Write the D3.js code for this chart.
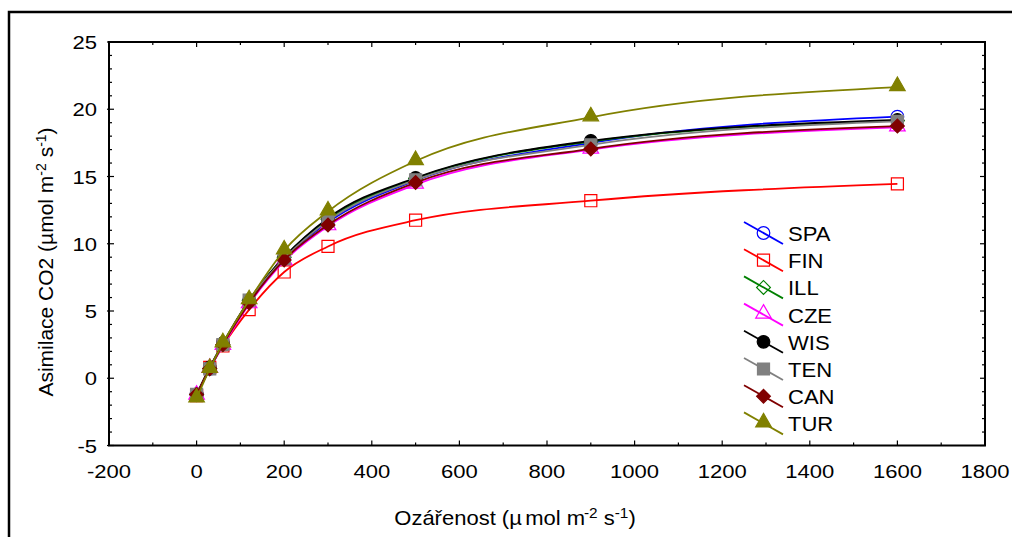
<!DOCTYPE html>
<html>
<head>
<meta charset="utf-8">
<script src="https://cdn.jsdelivr.net/npm/d3@7/dist/d3.min.js"></script>
<style>
  html, body { margin: 0; padding: 0; background: #fff; }
  svg { display: block; font-family: "Liberation Sans", Arial, sans-serif; }
</style>
</head>
<body>
<svg id="chart" width="1012" height="537"></svg>
<script>
// Light-response curves of CO2 assimilation for eight provenances
const irradiance = [0, 30, 60, 120, 200, 300, 500, 900, 1600];

const SPA = [-1.2, 0.7, 2.5, 5.7, 8.9, 11.6, 14.7, 17.5, 19.45];
const FIN = [-1.3, 0.8, 2.4, 5.1, 7.9, 9.8, 11.75, 13.2, 14.45];
const ILL = [-1.2, 0.7, 2.5, 5.8, 9.0, 11.8, 14.85, 17.6, 19.15];
const CZE = [-1.3, 0.7, 2.4, 5.5, 8.7, 11.3, 14.4, 17.0, 18.65];
const WIS = [-1.2, 0.8, 2.6, 5.8, 9.0, 11.9, 14.9, 17.65, 19.2];
const TEN = [-1.2, 0.7, 2.5, 5.8, 8.9, 11.7, 14.75, 17.35, 19.1];
const CAN = [-1.2, 0.7, 2.5, 5.6, 8.8, 11.4, 14.55, 17.05, 18.75];
const TUR = [-1.5, 0.7, 2.6, 5.8, 9.5, 12.4, 16.15, 19.4, 21.65];

const seriesNames = ["SPA", "FIN", "ILL", "CZE", "WIS", "TEN", "CAN", "TUR"];
const seriesValues = [SPA, FIN, ILL, CZE, WIS, TEN, CAN, TUR];

const xTicks = [-200, 0, 200, 400, 600, 800, 1000, 1200, 1400, 1600, 1800];
const yTicks = [-5, 0, 5, 10, 15, 20, 25];

// Style per series: colour, marker shape, filled or hollow
const styles = {
  SPA: { color: "#0000ff", shape: "circle",   fill: false },
  FIN: { color: "#ff0000", shape: "square",   fill: false },
  ILL: { color: "#008000", shape: "diamond",  fill: false },
  CZE: { color: "#ff00ff", shape: "triangle", fill: false },
  WIS: { color: "#000000", shape: "circle",   fill: true },
  TEN: { color: "#808080", shape: "square",   fill: true },
  CAN: { color: "#800000", shape: "diamond",  fill: true },
  TUR: { color: "#808000", shape: "triangle", fill: true }
};

const svg = d3.select("#chart");

// Outer frame of the figure
svg.append("rect")
  .attr("x", 9).attr("y", 12)
  .attr("width", 1030).attr("height", 560)
  .attr("fill", "none").attr("stroke", "#000").attr("stroke-width", 2.5);

const plotLeft = 109, plotRight = 985, plotTop = 42, plotBottom = 445.5;

const x = d3.scaleLinear().domain([-200, 1800]).range([plotLeft, plotRight]);
const y = d3.scaleLinear().domain([-5, 25]).range([plotBottom, plotTop]);

// Plot frame
svg.append("rect")
  .attr("x", plotLeft).attr("y", plotTop)
  .attr("width", plotRight - plotLeft).attr("height", plotBottom - plotTop)
  .attr("fill", "none").attr("stroke", "#000").attr("stroke-width", 2);

// Inward ticks on all four sides: majors labelled, minors in between
const xMinor = d3.range(-200, 1801, 100);
const yMinor = d3.range(-5, 26, 1);
const tickG = svg.append("g").attr("stroke", "#000").attr("stroke-width", 1.2);

xMinor.forEach(v => {
  const major = v % 200 === 0;
  const len = major ? 5 : 3;
  tickG.append("line").attr("x1", x(v)).attr("x2", x(v)).attr("y1", plotBottom).attr("y2", plotBottom - len);
  tickG.append("line").attr("x1", x(v)).attr("x2", x(v)).attr("y1", plotTop).attr("y2", plotTop + len);
});
yMinor.forEach(v => {
  const major = v % 5 === 0;
  const len = major ? 5 : 3;
  tickG.append("line").attr("x1", plotLeft - (major ? 2 : 0)).attr("x2", plotLeft + len).attr("y1", y(v)).attr("y2", y(v));
  tickG.append("line").attr("x1", plotRight).attr("x2", plotRight - len).attr("y1", y(v)).attr("y2", y(v));
});

// Text placed at (px, py), widened horizontally by sx
function wideText(parent, px, py, sx, anchor, size) {
  return parent.append("g")
    .attr("transform", `translate(${px},${py}) scale(${sx},1)`)
    .append("text")
    .attr("text-anchor", anchor)
    .attr("font-size", size);
}

// Tick labels
const xLabG = svg.append("g");
xTicks.forEach(d => wideText(xLabG, x(d), 477.5, 1.16, "middle", 19).text(d));

const yLabG = svg.append("g");
yTicks.forEach(d => wideText(yLabG, 97, y(d) + 7, 1.16, "end", 19).text(d));

// Axis titles
const xt = wideText(svg, 515, 525, 1.1, "middle", 20);
xt.append("tspan").text("Ozářenost (µ");
xt.append("tspan").attr("dx", 3).text("mol m");
xt.append("tspan").attr("dx", -1).attr("dy", -7).attr("font-size", 14).text("-2");
xt.append("tspan").attr("dy", 7).text(" s");
xt.append("tspan").attr("dy", -7).attr("font-size", 14).text("-1");
xt.append("tspan").attr("dy", 7).text(")");

const yt = svg.append("text")
  .attr("transform", "translate(53,262) rotate(-90)")
  .attr("text-anchor", "middle")
  .attr("font-size", 21);
yt.append("tspan").text("Asimilace CO2 (µmol m");
yt.append("tspan").attr("dy", -7).attr("font-size", 14).text("-2");
yt.append("tspan").attr("dy", 7).text(" s");
yt.append("tspan").attr("dy", -7).attr("font-size", 14).text("-1");
yt.append("tspan").attr("dy", 7).text(")");

// Marker path generator
function markerPath(shape) {
  if (shape === "circle") return d3.symbol(d3.symbolCircle, 125)();
  if (shape === "square") return d3.symbol(d3.symbolSquare, 145)();
  if (shape === "diamond") return d3.symbol(d3.symbolSquare, 95)();
  return d3.symbol(d3.symbolTriangle, 105)();
}
function drawMarker(g, cx, cy, st) {
  return g.append("path")
    .attr("d", markerPath(st.shape))
    .attr("transform", `translate(${cx},${cy})` + (st.shape === "diamond" ? " rotate(45)" : "") + (st.shape === "triangle" ? " translate(0,-1)" : ""))
    .attr("stroke", st.color)
    .attr("stroke-width", 1.2)
    .attr("fill", st.fill ? st.color : "none");
}

const line = d3.line()
  .x((d, i) => x(irradiance[i]))
  .y(d => y(d))
  .curve(d3.curveMonotoneX);

const plotG = svg.append("g");
seriesNames.forEach((name, k) => {
  const st = styles[name];
  const vals = seriesValues[k];
  const g = plotG.append("g");
  g.append("path")
    .attr("d", line(vals))
    .attr("fill", "none")
    .attr("stroke", st.color)
    .attr("stroke-width", 1.8);
  vals.forEach((v, i) => drawMarker(g, x(irradiance[i]), y(v), st));
});

// Legend
const legendG = svg.append("g");
seriesNames.forEach((name, k) => {
  const st = styles[name];
  const cy = 233 + k * 27.2;
  legendG.append("line")
    .attr("x1", 744).attr("y1", cy - 11)
    .attr("x2", 783).attr("y2", cy + 11)
    .attr("stroke", st.color).attr("stroke-width", 1.8);
  drawMarker(legendG, 763.5, cy, st);
  wideText(legendG, 788, cy + 8, 1.05, "start", 21).text(name);
});
</script>
</body>
</html>
